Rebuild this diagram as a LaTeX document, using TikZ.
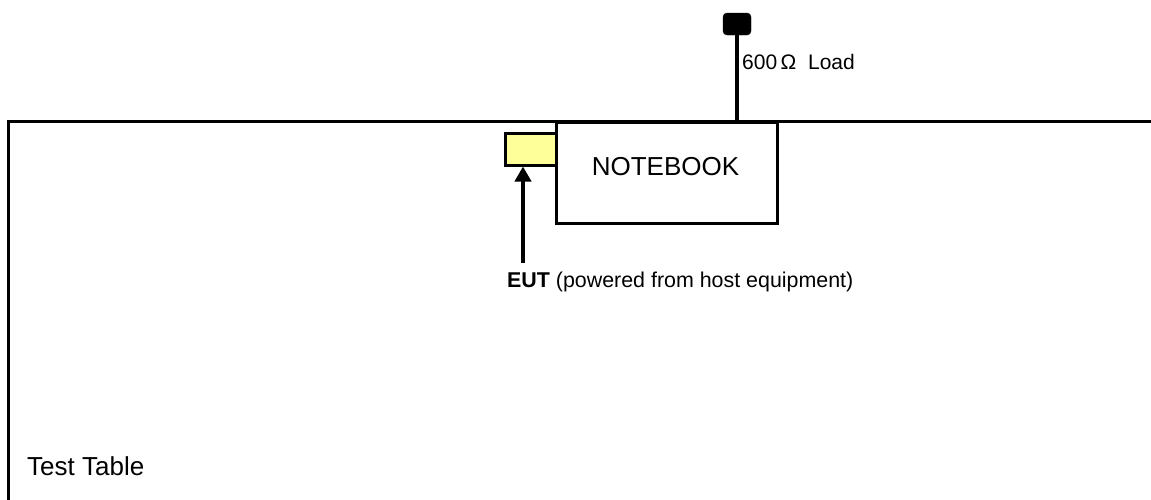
\documentclass[tikz,border=0pt]{standalone}
\usepackage{fontspec}
\setmainfont{Liberation Sans}
\usetikzlibrary{arrows.meta,positioning}
\definecolor{eutYellow}{HTML}{FFFF99}

\begin{document}
\begin{tikzpicture}[x=1pt, y=-1pt,
  frame/.style={draw=black, line width=3pt},
  notebox/.style={draw=black, line width=3pt, minimum width=221pt, minimum height=101pt, inner sep=0pt},
  eutbox/.style={draw=black, fill=eutYellow, line width=3pt, minimum width=51pt, minimum height=32pt, inner sep=0pt},
  loadbox/.style={draw=black, fill=black, rounded corners=4pt, minimum width=28pt, minimum height=22pt, inner sep=0pt},
  lbl/.style={inner sep=0pt, anchor=base west, font=\fontsize{21}{25}\selectfont},
  bigtext/.style={inner sep=0pt, font=\fontsize{26}{31}\selectfont},
  arrow/.style={-{Triangle[length=15pt, width=16pt]}, line width=4.5pt, draw=black},
]
\useasboundingbox (0,0) rectangle (1151,499);

% test table
\draw[frame] (1160,121) -- (8,121) -- (8,510);
\node[bigtext, anchor=base west] (table) at (27,475) {Test Table};

% notebook and EUT
\node[eutbox] (eut) at (530.5,149) {};
\node[notebox] (notebook) at (666.5,172.5) {};
\node[bigtext, anchor=base] (nbtext) at (665.5,175) {NOTEBOOK};

% 600 ohm load
\node[loadbox] (load) at (737,24) {};
\draw[line width=3.5pt] (load.south) -- (load.south |- notebook.north);
\node[lbl] (loadlbl) at (742,69) {600\,Ω\ \ Load};

% EUT label and arrow
\node[lbl, font=\fontsize{21.4}{25}\selectfont] (eutlbl) at (507,287) {\textbf{EUT} (powered from host equipment)};
\coordinate (tail) at (523,263);
\draw[arrow] (tail) -- (tail |- eut.south);
\end{tikzpicture}
\end{document}
